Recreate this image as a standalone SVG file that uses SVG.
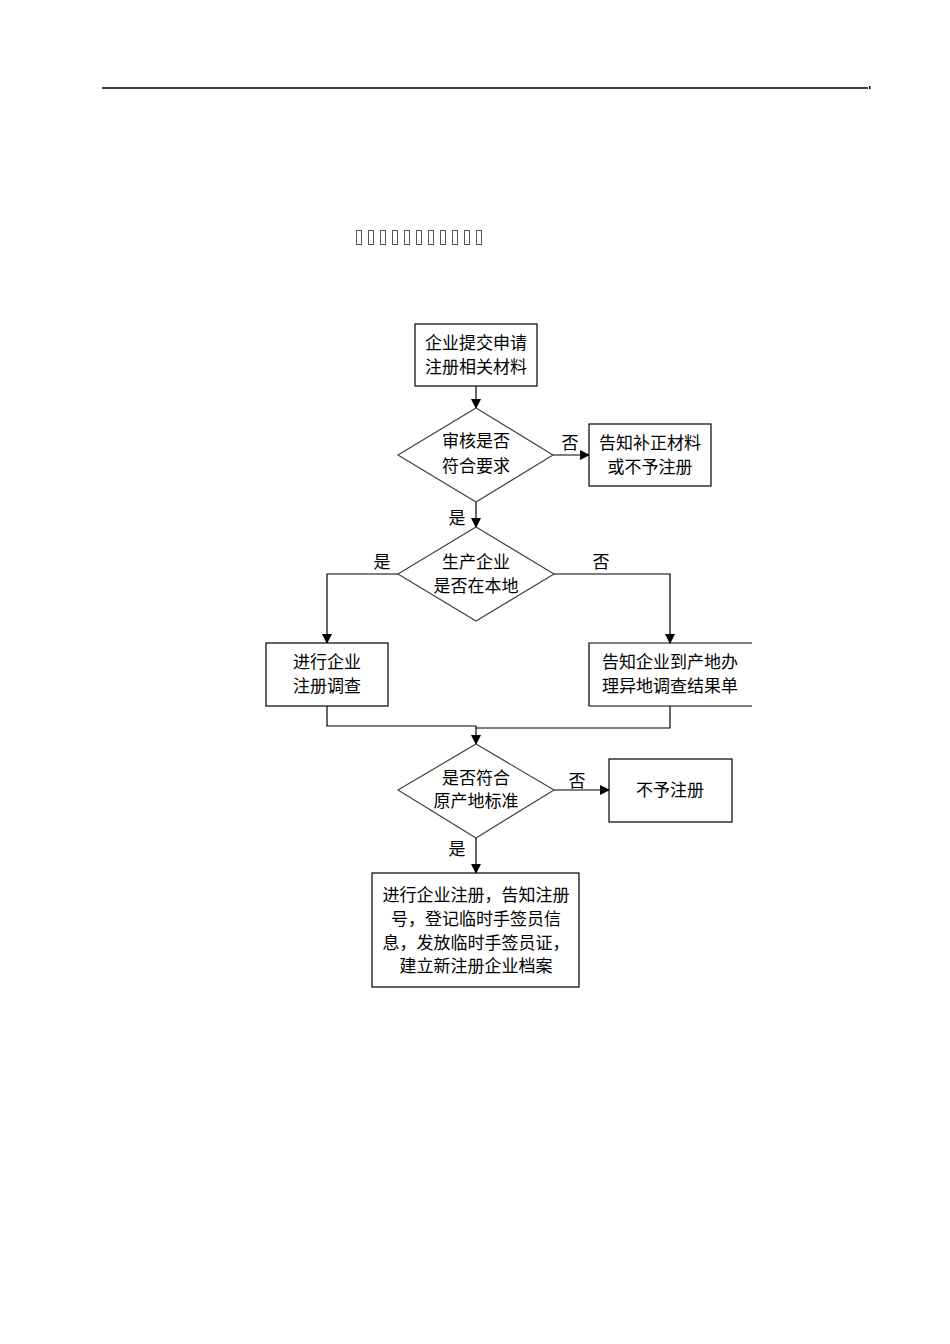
<svg xmlns="http://www.w3.org/2000/svg" width="950" height="1344" viewBox="0 0 950 1344">
<style>
.b{fill:#fff;stroke:#000;stroke-width:1.2}
.l{fill:none;stroke:#000;stroke-width:1.2}
.d{fill:#fff;stroke:#444;stroke-width:1.2}
text{font-family:"Liberation Serif","Noto Sans CJK SC",serif;font-size:17px;fill:#000;text-anchor:middle}
.t{fill:none;stroke:#555;stroke-width:1}
</style>
<defs><marker id="a" markerWidth="10" markerHeight="10" refX="9" refY="5" orient="auto" markerUnits="userSpaceOnUse"><path d="M0,0L10,5L0,10z" fill="#000"/></marker></defs>
<rect width="950" height="1344" fill="#fff"/>
<line x1="102" y1="88" x2="868" y2="88" stroke="#000" stroke-width="1.5"/>
<rect x="869" y="86" width="1.5" height="3" fill="#000"/>
<g id="title">
<rect class="t" x="356.5" y="230.5" width="5" height="14"/><rect class="t" x="368.5" y="230.5" width="5" height="14"/><rect class="t" x="380.5" y="230.5" width="5" height="14"/><rect class="t" x="392.5" y="230.5" width="5" height="14"/><rect class="t" x="404.5" y="230.5" width="5" height="14"/><rect class="t" x="416.5" y="230.5" width="5" height="14"/><rect class="t" x="428.5" y="230.5" width="5" height="14"/><rect class="t" x="440.5" y="230.5" width="5" height="14"/><rect class="t" x="452.5" y="230.5" width="5" height="14"/><rect class="t" x="464.5" y="230.5" width="5" height="14"/><rect class="t" x="476.5" y="230.5" width="5" height="14"/>
</g>
<g id="connectors">
<line class="l" x1="476" y1="386" x2="476" y2="408" marker-end="url(#a)"/>
<line class="l" x1="553" y1="455" x2="589" y2="455" marker-end="url(#a)"/>
<line class="l" x1="476" y1="502" x2="476" y2="527" marker-end="url(#a)"/>
<polyline class="l" points="398,574 327,574 327,643" marker-end="url(#a)"/>
<polyline class="l" points="554,574 670,574 670,643" marker-end="url(#a)"/>
<polyline class="l" points="327,706 327,726 476,726"/>
<polyline class="l" points="670,706 670,728 476,728"/>
<line class="l" x1="476" y1="726" x2="476" y2="744" marker-end="url(#a)"/>
<line class="l" x1="554" y1="790" x2="609" y2="790" marker-end="url(#a)"/>
<line class="l" x1="476" y1="838" x2="476" y2="873" marker-end="url(#a)"/>
<text x="570" y="449">否</text>
<text x="457" y="524">是</text>
<text x="382" y="568">是</text>
<text x="601" y="568">否</text>
<text x="577" y="787">否</text>
<text x="457" y="855">是</text>
</g>
<g id="n1"><rect class="b" x="415" y="324" width="122" height="62"/><text x="476" y="349">企业提交申请</text><text x="476" y="373">注册相关材料</text></g>
<g id="n2"><polygon class="d" points="476,408 553,455 476,502 398,455"/><text x="476" y="447">审核是否</text><text x="476" y="472">符合要求</text></g>
<g id="n3"><rect class="b" x="589" y="424" width="122" height="62"/><text x="650" y="449">告知补正材料</text><text x="650" y="473">或不予注册</text></g>
<g id="n4"><polygon class="d" points="476,527 554,574 476,621 398,574"/><text x="476" y="568">生产企业</text><text x="476" y="592">是否在本地</text></g>
<g id="n5"><rect class="b" x="266" y="643" width="122" height="63"/><text x="327" y="668">进行企业</text><text x="327" y="692">注册调查</text></g>
<g id="n6"><polyline class="l" points="752,643 589,643 589,706 752,706"/><text x="670" y="668">告知企业到产地办</text><text x="670" y="692">理异地调查结果单</text></g>
<g id="n7"><polygon class="d" points="476,744 554,790 476,838 398,790"/><text x="476" y="784">是否符合</text><text x="476" y="807">原产地标准</text></g>
<g id="n8"><rect class="b" x="609" y="759" width="123" height="63"/><text x="670" y="796">不予注册</text></g>
<g id="n9"><rect class="b" x="372" y="873" width="207" height="114"/><text x="476" y="901">进行企业注册，告知注册</text><text x="476" y="925">号，登记临时手签员信</text><text x="476" y="949">息，发放临时手签员证，</text><text x="476" y="972">建立新注册企业档案</text></g>
</svg>
